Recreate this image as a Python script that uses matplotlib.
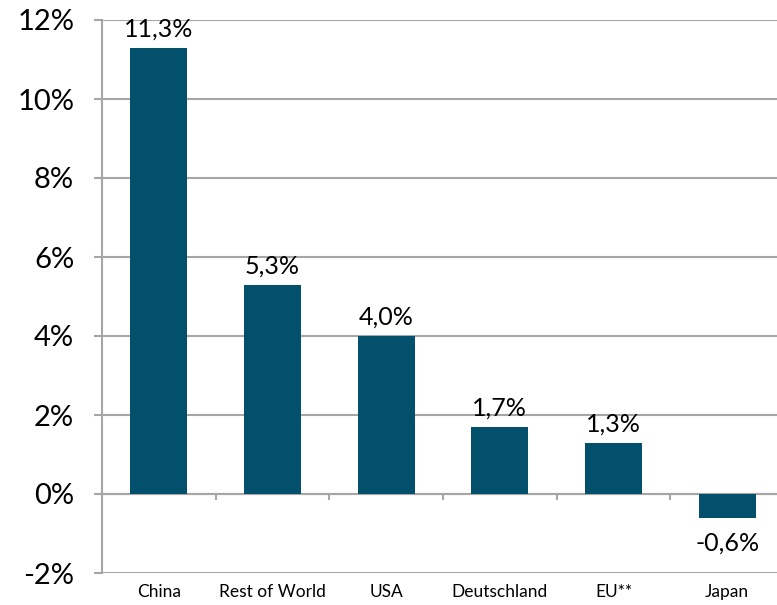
import numpy as np
import matplotlib.pyplot as plt
import matplotlib as mpl

mpl.rcParams['font.family'] = ['Lato', 'DejaVu Sans']

# ---------- data ----------
countries = ['China', 'Rest of World', 'USA', 'Deutschland', 'EU**', 'Japan']
growth = [11.3, 5.3, 4.0, 1.7, 1.3, -0.6]
value_labels = ['11,3%', '5,3%', '4,0%', '1,7%', '1,3%', '-0,6%']
y_ticks = [-2, 0, 2, 4, 6, 8, 10, 12]
y_tick_labels = ['-2%', '0%', '2%', '4%', '6%', '8%', '10%', '12%']

bar_color = '#03506d'
grid_color = '#a6a6a6'

fig = plt.figure(figsize=(7.77, 6.05), dpi=100)
# plot area runs a little past the right edge of the picture
ax = fig.add_axes([102 / 777, 1 - 573 / 605, (784 - 102) / 777, (573 - 20) / 605])

x = np.arange(len(countries))
ax.bar(x, growth, width=0.5, color=bar_color, zorder=3)

# value labels
for xi, v, lab in zip(x, growth, value_labels):
    if v >= 0:
        ax.annotate(lab, (xi, v), xytext=(0, 5), textcoords='offset points',
                    ha='center', va='bottom', fontsize=18, zorder=4)
    else:
        ax.annotate(lab, (xi, v), xytext=(0, -10), textcoords='offset points',
                    ha='center', va='top', fontsize=18, zorder=4)

ax.set_xlim(-0.5, len(countries) - 0.5)
ax.set_ylim(-2, 12)
ax.set_yticks(y_ticks)
ax.set_yticklabels(y_tick_labels, fontsize=21)
ax.yaxis.grid(True, color=grid_color, linewidth=1.5, zorder=0)
ax.set_axisbelow(True)

# category axis sits on the 0% line, labels below the plot
ax.spines['bottom'].set_position(('data', 0))
ax.spines['bottom'].set_color(grid_color)
ax.spines['bottom'].set_linewidth(1.5)
ax.spines['left'].set_color(grid_color)
ax.spines['left'].set_linewidth(1.5)
ax.spines['top'].set_visible(False)
ax.spines['right'].set_visible(False)

ax.set_xticks(x)
ax.set_xticklabels(countries, fontsize=12.5)
ax.set_xticks(np.arange(len(countries) - 1) + 0.5, minor=True)
ax.tick_params(axis='x', which='major', length=0, pad=65)
ax.tick_params(axis='x', which='minor', length=4, width=1.5, color=grid_color)
ax.tick_params(axis='y', length=6, width=1.5, color=grid_color, pad=14)

fig.savefig('out.png', dpi=100)
